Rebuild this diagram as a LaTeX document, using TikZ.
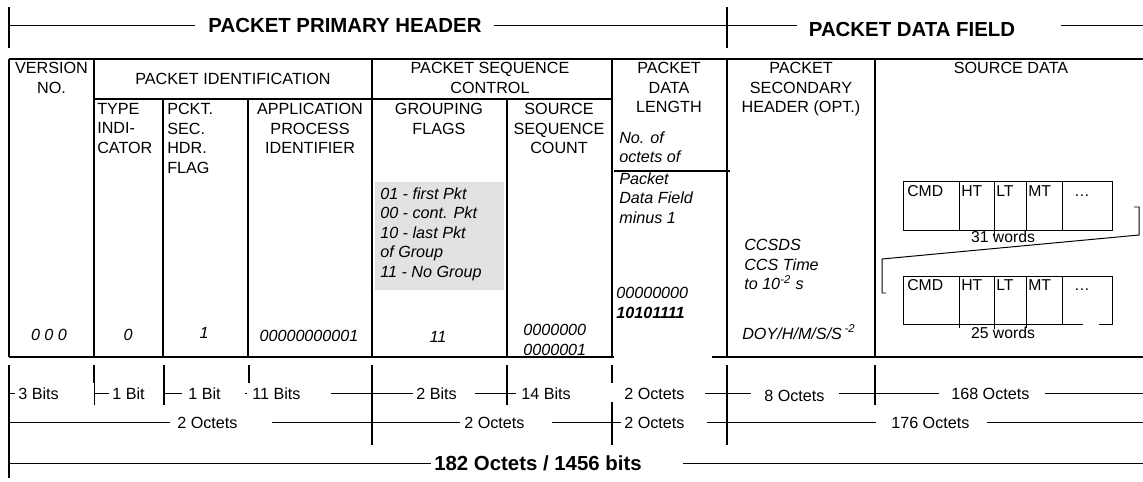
\documentclass[tikz,border=0pt]{standalone}
\usepackage{fontspec}
\setmainfont{Liberation Sans}
\usepackage{tikz}
\usetikzlibrary{positioning}
\usepackage{xcolor}
\definecolor{flagshade}{RGB}{226,226,226}

\begin{document}
\begin{tikzpicture}[x=0.025cm, y=-0.025cm,
  frame/.style={line width=1.4pt},
  bar/.style={line width=1.8pt},
  wire/.style={line width=0.7pt},
  bigtitle/.style={font=\fontsize{14.5}{17}\selectfont\bfseries, inner sep=0pt, anchor=base},
  field/.style={font=\fontsize{11.5}{13.9}\selectfont, align=center, inner sep=0pt, anchor=north},
  fieldl/.style={field, align=left, anchor=north west},
  note/.style={fieldl, font=\fontsize{11.5}{13.9}\selectfont\itshape},
  val/.style={font=\fontsize{11.5}{13.9}\selectfont\itshape, inner sep=0pt, anchor=base},
  dimtext/.style={font=\fontsize{11.5}{13.9}\selectfont, inner sep=0pt, anchor=base west},
  word/.style={font=\fontsize{11.2}{13}\selectfont, inner sep=0pt, anchor=base west}
]
\useasboundingbox (0,0) rectangle (1143,481);

% header bracket
\draw[bar] (9,7) -- (9,48);
\draw[bar] (727,7) -- (727,48);
\draw[wire] (9,25) -- (195,25);
\node[bigtitle] (prim) at (345,32) {PACKET PRIMARY HEADER};
\draw[wire] (494,25) -- (797,25);
\node[bigtitle] (datafld) at (912,36) {PACKET DATA FIELD};
\draw[wire] (1061,25) -- (1143,25);

% field table
\fill[flagshade] (375,182) rectangle (504,290);
\draw[frame] (9,59) -- (1143,59);
\draw[frame] (9,59) -- (9,357);
\draw[frame] (94,59) -- (94,357);
\draw[frame] (94,99) -- (612,99);
\draw[frame] (163,99) -- (163,357);
\draw[frame] (248,99) -- (248,357);
\draw[frame] (372,59) -- (372,357);
\draw[frame] (507,99) -- (507,357);
\draw[frame] (612,59) -- (612,357);
\draw[frame] (727,59) -- (727,357);
\draw[frame] (875,59) -- (875,357);
\draw[frame] (9,357) -- (614,357);
\draw[frame] (712,357) -- (1143,357);
\draw[frame] (614,171) -- (730,171);

\node[field] (ver) at (51.5,62) {VERSION\\NO.};
\node[field] (pid) at (233,73) {PACKET IDENTIFICATION};
\node[fieldl] (type) at (97,103) {TYPE\\INDI-\\CATOR};
\node[fieldl] (shf) at (167,103) {PCKT.\\SEC.\\HDR.\\FLAG};
\node[field] (apid) at (310,103) {APPLICATION\\PROCESS\\IDENTIFIER};
\node[field] (psc) at (490,62) {PACKET SEQUENCE\\CONTROL};
\node[field] (grp) at (439,103) {GROUPING\\FLAGS};
\node[field] (ssc) at (559,103) {SOURCE\\SEQUENCE\\COUNT};
\node[field] (pdl) at (669,62) {PACKET\\DATA\\LENGTH};
\node[note] (pdlnote) at (619,131) {No. of\\octets of};
\node[note] (pdlnote2) at (619,172) {Packet\\Data Field\\minus 1};
\node[note] (grpnote) at (380,187) {01 - first Pkt\\00 - cont. Pkt\\10 - last Pkt\\of Group\\11 - No Group};
\node[field] (sec) at (801,62) {PACKET\\SECONDARY\\HEADER (OPT.)};
\node[note] (secnote) at (744,239) {CCSDS\\CCS Time\\to 10\textsuperscript{-2} s};
\node[field] (src) at (1011,62) {SOURCE DATA};

% values
\node[val] (verv) at (49,340) {0 0 0};
\node[val] (typev) at (128,340) {0};
\node[val] (shfv) at (204,338) {1};
\node[val] (apidv) at (309,341) {00000000001};
\node[val] (grpv) at (438,342) {11};
\node[note] (sscv) at (523,324) {0000000\\0000001};
\node[note] (pdlv) at (616,287) {00000000\\\textbf{10101111}};
\node[val, anchor=base west] (secv) at (742,339) {DOY/H/M/S/S\,\textsuperscript{-2}};

% source data words
\draw[wire] (903,181) rectangle (1112,230);
\draw[wire] (959,181) -- (959,230);
\draw[wire] (994,181) -- (994,236);
\draw[wire] (1026,181) -- (1026,230);
\draw[wire] (1062,181) -- (1062,230);
\node[word] (cmda) at (907,196) {CMD};
\node[word] (hta) at (961,196) {HT};
\node[word] (lta) at (996,196) {LT};
\node[word] (mta) at (1028,196) {MT};
\node[word, anchor=base] (dota) at (1082,196) {\dots};
\node[word, anchor=base] (wa) at (1003,242) {31 words};
\draw[wire] (1134,207) -- (1139,207) -- (1139,235) -- (882,259) -- (882,293) -- (886,293);
\draw[wire] (903,324) -- (903,276) -- (1112,276) -- (1112,324) -- (1099,324);
\draw[wire] (1083,324) -- (903,324);
\draw[wire] (959,276) -- (959,328);
\draw[wire] (994,276) -- (994,329);
\draw[wire] (1026,276) -- (1026,328);
\draw[wire] (1062,276) -- (1062,324);
\node[word] (cmdb) at (907,290) {CMD};
\node[word] (htb) at (961,290) {HT};
\node[word] (ltb) at (996,290) {LT};
\node[word] (mtb) at (1028,290) {MT};
\node[word, anchor=base] (dotb) at (1082,290) {\dots};
\node[word, anchor=base] (wb) at (1003,338) {25 words};

% sizes
\draw[bar] (9,365) -- (9,478);
\draw[bar] (94,365) -- (94,383);
\draw[wire] (94,383) -- (94,405);
\draw[bar] (164,365) -- (164,405);
\draw[bar] (249,365) -- (249,383);
\draw[bar] (372,365) -- (372,445);
\draw[bar] (507,365) -- (507,405);
\draw[bar] (612,365) -- (612,383);
\draw[bar] (612,402) -- (612,445);
\draw[bar] (727,365) -- (727,445);
\draw[bar] (875,365) -- (875,405);

\draw[wire] (9,393) -- (15,393);
\node[dimtext] (b3) at (18,399) {3 Bits};
\draw[wire] (94,393) -- (109,393);
\node[dimtext] (b1a) at (112,399) {1 Bit};
\draw[wire] (164,393) -- (182,393);
\node[dimtext] (b1b) at (188,399) {1 Bit};
\draw[wire] (245,393) -- (247,393);
\node[dimtext] (b11) at (252,399) {11 Bits};
\draw[wire] (331,393) -- (413,393);
\node[dimtext] (b2) at (416,399) {2 Bits};
\draw[wire] (475,393) -- (516,393);
\node[dimtext] (b14) at (521,399) {14 Bits};
\node[dimtext] (o2c) at (624,399) {2 Octets};
\draw[wire] (705,393) -- (751,393);
\node[dimtext] (o8) at (764,401) {8 Octets};
\draw[wire] (839,393) -- (939,393);
\node[dimtext] (o168) at (951,399) {168 Octets};
\draw[wire] (1045,393) -- (1143,393);

\draw[wire] (9,422) -- (170,422);
\node[dimtext] (o2a) at (177,428) {2 Octets};
\draw[wire] (272,422) -- (460,422);
\node[dimtext] (o2b) at (464,428) {2 Octets};
\draw[wire] (552,422) -- (621,422);
\node[dimtext] (o2d) at (624,428) {2 Octets};
\draw[wire] (707,422) -- (876,422);
\node[dimtext] (o176) at (891,428) {176 Octets};
\draw[wire] (987,422) -- (1143,422);

\draw[wire] (9,463) -- (431,463);
\node[bigtitle, anchor=base west] (total) at (434,470) {182 Octets / 1456 bits};
\draw[wire] (683,463) -- (1143,463);
\end{tikzpicture}
\end{document}
